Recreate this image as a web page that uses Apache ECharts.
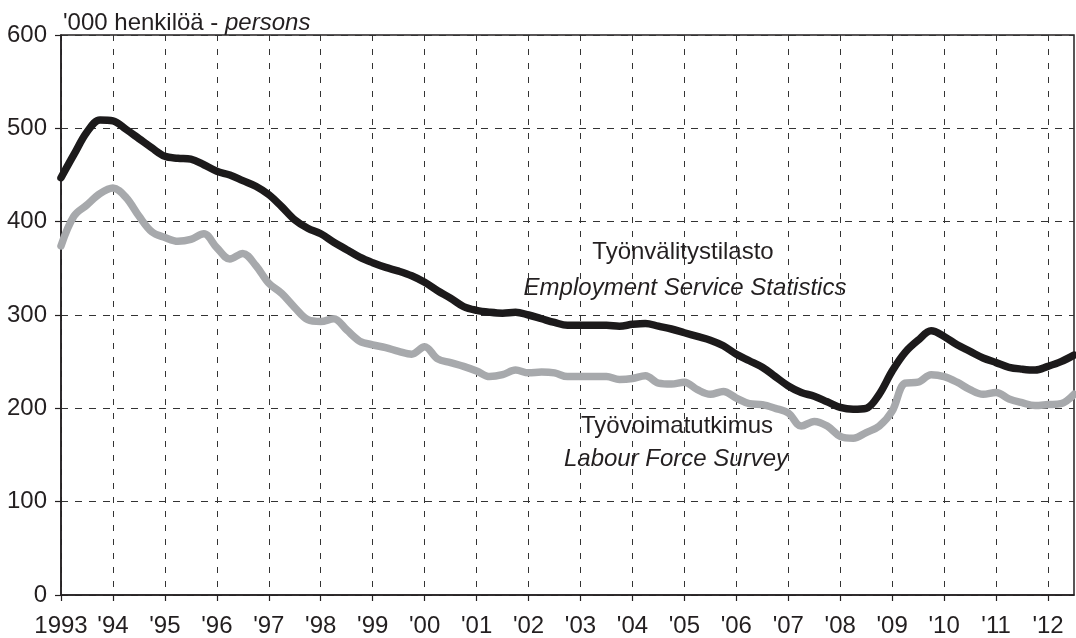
<!DOCTYPE html>
<html>
<head>
<meta charset="utf-8">
<script src="https://cdn.jsdelivr.net/npm/echarts@6/dist/echarts.min.js"></script>
<style>
  html, body { margin: 0; padding: 0; background: #fff; }
  #chart { width: 1076px; height: 638px; }
</style>
</head>
<body>
<div id="chart"></div>
<script>
// quarters, Q1 1993 .. Q3 2012
const periods = [
  '1993Q1', '1993Q2', '1993Q3', '1993Q4',
  '1994Q1', '1994Q2', '1994Q3', '1994Q4',
  '1995Q1', '1995Q2', '1995Q3', '1995Q4',
  '1996Q1', '1996Q2', '1996Q3', '1996Q4',
  '1997Q1', '1997Q2', '1997Q3', '1997Q4',
  '1998Q1', '1998Q2', '1998Q3', '1998Q4',
  '1999Q1', '1999Q2', '1999Q3', '1999Q4',
  '2000Q1', '2000Q2', '2000Q3', '2000Q4',
  '2001Q1', '2001Q2', '2001Q3', '2001Q4',
  '2002Q1', '2002Q2', '2002Q3', '2002Q4',
  '2003Q1', '2003Q2', '2003Q3', '2003Q4',
  '2004Q1', '2004Q2', '2004Q3', '2004Q4',
  '2005Q1', '2005Q2', '2005Q3', '2005Q4',
  '2006Q1', '2006Q2', '2006Q3', '2006Q4',
  '2007Q1', '2007Q2', '2007Q3', '2007Q4',
  '2008Q1', '2008Q2', '2008Q3', '2008Q4',
  '2009Q1', '2009Q2', '2009Q3', '2009Q4',
  '2010Q1', '2010Q2', '2010Q3', '2010Q4',
  '2011Q1', '2011Q2', '2011Q3', '2011Q4',
  '2012Q1', '2012Q2', '2012Q3'
];

const yearLabels = ['1993', "'94", "'95", "'96", "'97", "'98", "'99", "'00", "'01", "'02",
  "'03", "'04", "'05", "'06", "'07", "'08", "'09", "'10", "'11", "'12"];

// Työnvälitystilasto - Employment Service Statistics ('000)
const employmentService = [
  447, 472, 496, 509, 508, 499, 489, 479,
  470, 468, 467, 461, 454, 450, 444, 438,
  429, 416, 402, 393, 387, 378, 370, 362,
  356, 351, 347, 342, 335, 326, 318, 309,
  305, 303, 302, 303, 300, 296, 292, 289,
  289, 289, 289, 288, 290, 291, 288, 285,
  281, 277, 273, 267, 258, 251, 244, 234,
  224, 217, 213, 207, 201, 199, 200, 215,
  240, 260, 273, 283, 277, 268, 261, 254,
  249, 244, 242, 241, 245, 250, 257
];

// Työvoimatutkimus - Labour Force Survey ('000)
const labourForceSurvey = [
  374, 406, 418, 430, 436, 426, 406, 389,
  383, 379, 381, 387, 372, 360, 366, 353,
  334, 323, 308, 295, 293, 296, 284, 272,
  268, 265, 261, 258, 266, 253, 249, 245,
  240, 234, 236, 241, 238, 239, 238, 234,
  234, 234, 234, 231, 232, 235, 227, 226,
  228, 220, 215, 218, 211, 205, 204, 200,
  195, 181, 186, 181, 170, 168, 174, 181,
  197, 227, 228, 236, 234, 228, 220, 215,
  217, 210, 206, 203, 204, 205, 215
];

const yTicks = { min: 0, max: 600, step: 100 };

const FONT = '"Liberation Sans", Arial, Helvetica, sans-serif';
const INK = '#231f20';

const chart = echarts.init(document.getElementById('chart'), null, { renderer: 'canvas' });

const option = {
  backgroundColor: '#fff',
  animation: false,
  title: {
    left: 58,
    top: 6,
    text: "{n|'000 henkilöä - }{i|persons}",
    textStyle: {
      fontWeight: 'normal',
      rich: {
        n: { fontFamily: FONT, fontSize: 24, fontWeight: 'normal', color: INK },
        i: { fontFamily: FONT, fontSize: 24, fontWeight: 'normal', fontStyle: 'italic', color: INK }
      }
    }
  },
  grid: {
    left: 61,
    right: 2,
    top: 35,
    bottom: 42,
    show: true,
    borderColor: INK,
    borderWidth: 1.5,
    backgroundColor: 'transparent'
  },
  xAxis: {
    type: 'category',
    data: periods,
    boundaryGap: false,
    axisLine: { show: true, lineStyle: { color: INK, width: 1.5 } },
    axisTick: { show: true, interval: 3, length: 6, lineStyle: { color: INK, width: 1.2 } },
    axisLabel: {
      interval: 3,
      margin: 19,
      fontFamily: FONT,
      fontSize: 24,
      color: INK,
      formatter: (v, idx) => yearLabels[idx / 4] || ''
    },
    splitLine: {
      show: true,
      interval: 3,
      lineStyle: { color: '#333', width: 1, type: [6, 8] }
    }
  },
  yAxis: {
    type: 'value',
    min: yTicks.min,
    max: yTicks.max,
    interval: yTicks.step,
    axisLine: { show: true, lineStyle: { color: INK, width: 1.5 } },
    axisTick: { show: true, length: 6, lineStyle: { color: INK, width: 1.2 } },
    axisLabel: {
      margin: 14,
      fontFamily: FONT,
      fontSize: 24,
      color: INK
    },
    splitLine: {
      show: true,
      lineStyle: { color: '#333', width: 1, type: [7, 7] }
    }
  },
  series: [
    {
      name: 'Työvoimatutkimus - Labour Force Survey',
      type: 'line',
      data: labourForceSurvey,
      smooth: 0.35,
      showSymbol: false,
      lineStyle: { color: '#a7a9ac', width: 7.5, cap: 'round', join: 'round' },
      z: 3
    },
    {
      name: 'Työnvälitystilasto - Employment Service Statistics',
      type: 'line',
      data: employmentService,
      smooth: 0.35,
      showSymbol: false,
      lineStyle: { color: '#1c1a1b', width: 7.5, cap: 'round', join: 'round' },
      z: 4
    }
  ],
  graphic: [
    {
      type: 'text',
      x: 683, y: 252,
      style: {
        text: 'Työnvälitystilasto', fontFamily: FONT, fontSize: 24, fill: INK,
        align: 'center', verticalAlign: 'middle'
      }
    },
    {
      type: 'text',
      x: 685, y: 288,
      style: {
        text: 'Employment Service Statistics', fontFamily: FONT, fontSize: 24,
        fontStyle: 'italic', fill: INK, align: 'center', verticalAlign: 'middle'
      }
    },
    {
      type: 'text',
      x: 677, y: 426,
      style: {
        text: 'Työvoimatutkimus', fontFamily: FONT, fontSize: 24, fill: INK,
        align: 'center', verticalAlign: 'middle'
      }
    },
    {
      type: 'text',
      x: 676, y: 459,
      style: {
        text: 'Labour Force Survey', fontFamily: FONT, fontSize: 24,
        fontStyle: 'italic', fill: INK, align: 'center', verticalAlign: 'middle'
      }
    }
  ]
};

chart.setOption(option);
</script>
</body>
</html>
